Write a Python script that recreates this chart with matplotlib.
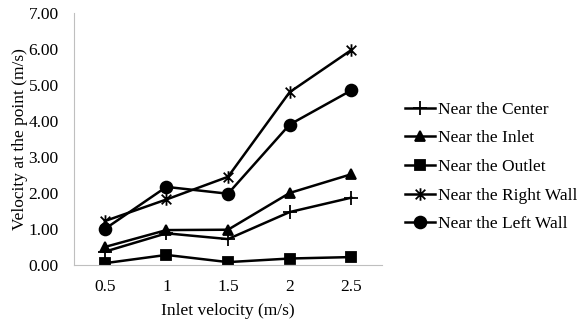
import matplotlib

matplotlib.use("Agg")
import matplotlib.pyplot as plt
from matplotlib.path import Path

plt.rcParams["font.family"] = ["Liberation Serif", "DejaVu Serif"]

inlet = ["0.5", "1", "1.5", "2", "2.5"]
center = [0.37, 0.88, 0.72, 1.47, 1.87]
near_inlet = [0.50, 0.97, 0.98, 2.00, 2.52]
outlet = [0.05, 0.28, 0.08, 0.18, 0.22]
right_wall = [1.22, 1.82, 2.45, 4.80, 5.97]
left_wall = [1.00, 2.17, 1.98, 3.90, 4.85]
labels = ["Near the Center", "Near the Inlet", "Near the Outlet",
          "Near the Right Wall", "Near the Left Wall"]

# Excel-style star: an x with a vertical bar through it
star = Path([(-1, -1), (1, 1), (-1, 1), (1, -1), (0, -1.3), (0, 1.3)],
            [Path.MOVETO, Path.LINETO, Path.MOVETO, Path.LINETO, Path.MOVETO, Path.LINETO])

series = [center, near_inlet, outlet, right_wall, left_wall]
markers = [("+", 10), ("^", 7.5), ("s", 7.5), (star, 9), ("o", 8.5)]

fig = plt.figure(figsize=(5.77, 3.24), dpi=100)
ax = fig.add_axes([74 / 577, 59 / 324, 308 / 577, 252 / 324])
x = list(range(len(inlet)))
for vals, (m, ms), lab in zip(series, markers, labels):
    ax.plot(x, vals, color="black", lw=1.8, marker=m, ms=ms, mew=1.3,
            mfc="black", mec="black", label=lab)

ax.set_xlim(-0.5, len(inlet) - 0.5)
ax.set_ylim(0, 7)
ax.set_xticks(x)
ax.set_xticklabels(inlet)
ax.set_yticks(range(8))
ax.set_yticklabels([f"{v:.2f}" for v in range(8)])
ax.tick_params(length=0, labelsize=12.5)
ax.tick_params(axis="y", pad=11)
ax.tick_params(axis="x", pad=10)
for s in ("top", "right"):
    ax.spines[s].set_visible(False)
for s in ("left", "bottom"):
    ax.spines[s].set_color("#bfbfbf")
ax.set_xlabel("Inlet velocity (m/s)", fontsize=12.5, labelpad=6)
ax.set_ylabel("Velocity at the point (m/s)", fontsize=12.5, labelpad=0)

fig.legend(loc="center left", bbox_to_anchor=(405 / 577, 1 - 167 / 324), frameon=False,
           fontsize=12.5, handlelength=1.75, handletextpad=0.15, labelspacing=0.72,
           borderpad=0, borderaxespad=0)
fig.savefig("out.png", dpi=100)
